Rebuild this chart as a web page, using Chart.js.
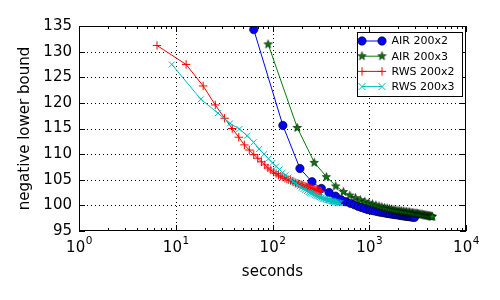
<!DOCTYPE html>
<html>
<head>
<meta charset="utf-8">
<script src="https://cdn.jsdelivr.net/npm/chart.js@4.4.0/dist/chart.umd.min.js"></script>
<style>
  html, body { margin: 0; padding: 0; background: #fff; }
  canvas { display: block; }
</style>
</head>
<body>
<canvas id="chart" width="500" height="300"></canvas>
<script>
// series names, in legend order
const seriesNames = ['AIR 200x2', 'AIR 200x3', 'RWS 200x2', 'RWS 200x3'];

// AIR 200x2 (blue circles)
const air2Seconds = [64, 128, 192, 256, 320, 384, 448, 512, 576, 640, 704, 768, 832, 896, 960, 1024,
  1088, 1152, 1216, 1280, 1344, 1408, 1472, 1536, 1600, 1664, 1728, 1792, 1856, 1920, 1984, 2048,
  2112, 2176, 2240, 2304, 2368, 2432, 2496, 2560, 2624, 2688, 2752, 2816, 2880, 2944];
const air2Bound = [134.3, 115.6, 107.2, 104.6, 103.3, 102.5, 101.8, 101.1, 100.7, 100.4, 100.1, 99.8,
  99.6, 99.4, 99.2, 99.1, 99.0, 98.9, 98.8, 98.7, 98.65, 98.6, 98.5, 98.45, 98.4, 98.35, 98.3, 98.25,
  98.2, 98.2, 98.15, 98.1, 98.05, 98.0, 98.0, 97.95, 97.9, 97.9, 97.85, 97.85, 97.8, 97.8, 97.75,
  97.75, 97.7, 97.7];

// AIR 200x3 (green stars)
const air3Seconds = [90, 180, 270, 360, 450, 540, 630, 720, 810, 900, 990, 1080, 1170, 1260, 1350,
  1440, 1530, 1620, 1710, 1800, 1890, 1980, 2070, 2160, 2250, 2340, 2430, 2520, 2610, 2700, 2790,
  2880, 2970, 3060, 3150, 3240, 3330, 3420, 3510, 3600, 3690, 3780, 3870, 3960, 4050, 4140, 4230,
  4320, 4410, 4500];
const air3Bound = [131.5, 115.2, 108.4, 105.6, 103.8, 102.7, 102.0, 101.5, 101.1, 100.8, 100.5, 100.3,
  100.1, 99.9, 99.75, 99.6, 99.5, 99.4, 99.3, 99.2, 99.1, 99.05, 99.0, 98.95, 98.9, 98.85, 98.8,
  98.75, 98.7, 98.65, 98.6, 98.55, 98.5, 98.5, 98.45, 98.4, 98.35, 98.3, 98.3, 98.25, 98.2, 98.15,
  98.1, 98.1, 98.05, 98.0, 98.0, 97.95, 97.9, 97.9];

// RWS 200x2 (red plus)
const rws2Seconds = [6.4, 12.8, 19.2, 25.6, 32, 38.4, 44.8, 51.2, 57.6, 64, 70.4, 76.8, 83.2, 89.6,
  96, 102.4, 108.8, 115.2, 121.6, 128, 134.4, 140.8, 147.2, 153.6, 160, 166.4, 172.8, 179.2, 185.6,
  192, 198.4, 204.8, 211.2, 217.6, 224, 230.4, 236.8, 243.2, 249.6, 256, 262.4, 268.8, 275.2, 281.6,
  288, 294.4, 300.8, 307.2, 313.6, 320];
const rws2Bound = [131.2, 127.5, 123.3, 119.6, 117.0, 115.0, 113.3, 111.8, 110.8, 109.9, 109.2, 108.5,
  107.9, 107.3, 106.9, 106.5, 106.2, 105.9, 105.7, 105.5, 105.3, 105.15, 105.0, 104.85, 104.7,
  104.55, 104.4, 104.3, 104.2, 104.1, 104.0, 103.9, 103.8, 103.7, 103.6, 103.5, 103.45, 103.4, 103.3,
  103.25, 103.2, 103.1, 103.05, 103.0, 102.95, 102.9, 102.85, 102.8, 102.75, 102.7];

// RWS 200x3 (cyan x)
const rws3Seconds = [9.1, 18.2, 27.3, 36.4, 45.5, 54.6, 63.7, 72.8, 81.9, 91, 100.1, 109.2, 118.3,
  127.4, 136.5, 145.6, 154.7, 163.8, 172.9, 182, 191.1, 200.2, 209.3, 218.4, 227.5, 236.6, 245.7,
  254.8, 263.9, 273, 282.1, 291.2, 300.3, 309.4, 318.5, 327.6, 336.7, 345.8, 354.9, 364, 373.1,
  382.2, 391.3, 400.4, 409.5, 418.6, 427.7, 436.8, 445.9, 455, 464.1, 473.2, 482.3, 491.4, 500.5];
const rws3Bound = [127.5, 120.7, 118.0, 116.0, 114.9, 113.6, 112.3, 111.0, 110.0, 109.1, 108.3, 107.6,
  107.0, 106.4, 105.9, 105.4, 105.0, 104.6, 104.3, 104.0, 103.7, 103.45, 103.2, 103.0, 102.8, 102.6,
  102.45, 102.3, 102.15, 102.0, 101.9, 101.8, 101.7, 101.6, 101.5, 101.4, 101.3, 101.25, 101.2,
  101.1, 101.05, 101.0, 100.95, 100.9, 100.85, 100.8, 100.75, 100.7, 100.65, 100.6, 100.55, 100.5,
  100.5, 100.45, 100.4];

// axis ticks
const xTickValues = [1, 10, 100, 1000, 10000];
const xTickExponents = ['0', '1', '2', '3', '4'];
const yTickValues = [95, 100, 105, 110, 115, 120, 125, 130, 135];

const BLUE = '#0000ff', GREEN = '#008000', RED = '#ff0000', CYAN = '#00bfbf';
const FONT = '"DejaVu Sans", sans-serif';

function toPoints(xs, ys) {
  return xs.map((x, i) => ({ x: x, y: ys[i] }));
}

function starPath(ctx, cx, cy, R, r) {
  ctx.beginPath();
  for (let i = 0; i < 10; i++) {
    const rad = i % 2 === 0 ? R : r;
    const a = -Math.PI / 2 + i * Math.PI / 5;
    const px = cx + rad * Math.cos(a), py = cy + rad * Math.sin(a);
    if (i === 0) ctx.moveTo(px, py); else ctx.lineTo(px, py);
  }
  ctx.closePath();
}

// filled star marker like matplotlib '*'
const starImg = document.createElement('canvas');
starImg.width = 11;
starImg.height = 11;
(function () {
  const c = starImg.getContext('2d');
  starPath(c, 5.5, 5.9, 4.4, 1.8);
  c.fillStyle = GREEN;
  c.fill();
  c.lineWidth = 0.6;
  c.strokeStyle = '#000';
  c.stroke();
})();

// grid, frame, inward ticks, custom tick labels and legend
const framePlugin = {
  id: 'frame',
  beforeDatasetsDraw(chart) {
    const { ctx, chartArea: a, scales } = chart;
    ctx.save();
    ctx.strokeStyle = '#000';
    ctx.lineWidth = 1;
    ctx.setLineDash([1, 3]);
    xTickValues.forEach(v => {
      const px = Math.round(scales.x.getPixelForValue(v)) + 0.5;
      if (px <= a.left + 1 || px >= a.right - 1) return;
      ctx.beginPath();
      ctx.moveTo(px, a.top);
      ctx.lineTo(px, a.bottom);
      ctx.stroke();
    });
    yTickValues.forEach(v => {
      const py = Math.round(scales.y.getPixelForValue(v)) + 0.5;
      if (py <= a.top + 1 || py >= a.bottom - 1) return;
      ctx.beginPath();
      ctx.moveTo(a.left, py);
      ctx.lineTo(a.right, py);
      ctx.stroke();
    });
    ctx.restore();
  },
  afterDatasetsDraw(chart) {
    const { ctx, chartArea: a, scales } = chart;
    ctx.save();
    ctx.strokeStyle = '#000';
    ctx.lineWidth = 1;
    ctx.beginPath();
    // x ticks, major and minor, top and bottom
    for (let d = 0; d < xTickValues.length; d++) {
      const base = xTickValues[d];
      for (let m = 1; m <= 9; m++) {
        if (d === xTickValues.length - 1 && m > 1) break;
        const px = Math.round(scales.x.getPixelForValue(base * m)) + 0.5;
        const len = m === 1 ? 6 : 3;
        ctx.moveTo(px, a.bottom);
        ctx.lineTo(px, a.bottom - len);
        ctx.moveTo(px, a.top);
        ctx.lineTo(px, a.top + len);
      }
    }
    yTickValues.forEach(v => {
      const py = Math.round(scales.y.getPixelForValue(v)) + 0.5;
      ctx.moveTo(a.left, py);
      ctx.lineTo(a.left + 6, py);
      ctx.moveTo(a.right, py);
      ctx.lineTo(a.right - 6, py);
    });
    ctx.stroke();
    ctx.strokeRect(Math.round(a.left) + 0.5, Math.round(a.top) + 0.5,
      Math.round(a.right - a.left) - 1, Math.round(a.bottom - a.top) - 1);
    ctx.restore();
  },
  afterDraw(chart) {
    const { ctx, chartArea: a, scales } = chart;
    ctx.save();
    // x tick labels 10^n
    ctx.fillStyle = '#000';
    ctx.textBaseline = 'alphabetic';
    ctx.textAlign = 'left';
    xTickValues.forEach((v, i) => {
      const px = scales.x.getPixelForValue(v);
      ctx.font = '15px ' + FONT;
      const bw = ctx.measureText('10').width;
      ctx.font = '10.5px ' + FONT;
      const sw = ctx.measureText(xTickExponents[i]).width;
      const x0 = px - (bw + sw) / 2;
      ctx.font = '15px ' + FONT;
      ctx.fillText('10', x0, a.bottom + 21);
      ctx.font = '10.5px ' + FONT;
      ctx.fillText(xTickExponents[i], x0 + bw + 0.5, a.bottom + 13);
    });

    // legend box
    const lx = 357.5, ly = 32.5, lw = 105, lh = 64;
    ctx.fillStyle = '#fff';
    ctx.fillRect(lx, ly, lw, lh);
    ctx.strokeStyle = '#000';
    ctx.lineWidth = 1;
    ctx.strokeRect(lx, ly, lw, lh);
    const colors = [BLUE, GREEN, RED, CYAN];
    const markers = ['circle', 'star', 'plus', 'x'];
    seriesNames.forEach((name, i) => {
      const y = 41 + i * 15.2;
      const x1 = 362, x2 = 382;
      ctx.strokeStyle = colors[i];
      ctx.lineWidth = 1;
      ctx.beginPath();
      ctx.moveTo(x1, y);
      ctx.lineTo(x2, y);
      ctx.stroke();
      [x1, x2].forEach(mx => {
        if (markers[i] === 'circle') {
          ctx.beginPath();
          ctx.arc(mx, y, 4.2, 0, Math.PI * 2);
          ctx.fillStyle = BLUE;
          ctx.fill();
          ctx.lineWidth = 0.6;
          ctx.strokeStyle = '#000';
          ctx.stroke();
        } else if (markers[i] === 'star') {
          ctx.drawImage(starImg, mx - 5.5, y - 5.9);
        } else if (markers[i] === 'plus') {
          ctx.beginPath();
          ctx.strokeStyle = RED;
          ctx.lineWidth = 1;
          ctx.moveTo(mx - 4.2, y); ctx.lineTo(mx + 4.2, y);
          ctx.moveTo(mx, y - 4.2); ctx.lineTo(mx, y + 4.2);
          ctx.stroke();
        } else {
          ctx.beginPath();
          ctx.strokeStyle = CYAN;
          ctx.lineWidth = 1;
          ctx.moveTo(mx - 3.5, y - 3.5); ctx.lineTo(mx + 3.5, y + 3.5);
          ctx.moveTo(mx - 3.5, y + 3.5); ctx.lineTo(mx + 3.5, y - 3.5);
          ctx.stroke();
        }
      });
      ctx.fillStyle = '#000';
      ctx.font = '11px ' + FONT;
      ctx.textBaseline = 'middle';
      ctx.fillText(name, 391.5, y + 0.5);
    });
    ctx.restore();
  }
};

new Chart(document.getElementById('chart'), {
  type: 'line',
  data: {
    datasets: [
      {
        label: seriesNames[0],
        data: toPoints(air2Seconds, air2Bound),
        borderColor: BLUE,
        backgroundColor: BLUE,
        borderWidth: 1,
        pointStyle: 'circle',
        pointRadius: 4.2,
        pointBorderColor: '#000',
        pointBorderWidth: 0.6,
        pointBackgroundColor: BLUE,
        order: 4
      },
      {
        label: seriesNames[1],
        data: toPoints(air3Seconds, air3Bound),
        borderColor: GREEN,
        backgroundColor: GREEN,
        borderWidth: 1,
        pointStyle: starImg,
        pointRadius: 4.4,
        order: 3
      },
      {
        label: seriesNames[2],
        data: toPoints(rws2Seconds, rws2Bound),
        borderColor: RED,
        backgroundColor: RED,
        borderWidth: 1,
        pointStyle: 'cross',
        pointRadius: 4.2,
        pointBorderColor: RED,
        pointBorderWidth: 1,
        order: 2
      },
      {
        label: seriesNames[3],
        data: toPoints(rws3Seconds, rws3Bound),
        borderColor: CYAN,
        backgroundColor: CYAN,
        borderWidth: 1,
        pointStyle: 'crossRot',
        pointRadius: 4.2,
        pointBorderColor: CYAN,
        pointBorderWidth: 1,
        order: 1
      }
    ]
  },
  options: {
    responsive: false,
    devicePixelRatio: 1,
    animation: false,
    layout: { padding: { left: 0, top: 26, right: 34, bottom: 0 } },
    plugins: {
      legend: { display: false },
      tooltip: { enabled: false }
    },
    elements: { line: { tension: 0, fill: false } },
    scales: {
      x: {
        type: 'logarithmic',
        min: 1,
        max: 10000,
        grid: { display: false, drawTicks: false },
        border: { display: false },
        ticks: { display: false },
        title: {
          display: true,
          text: 'seconds',
          color: '#000',
          font: { family: FONT, size: 15 },
          padding: { top: 0, bottom: 19 }
        },
        afterFit: scale => { scale.height = 69; }
      },
      y: {
        min: 95,
        max: 135,
        grid: { display: false, drawTicks: false },
        border: { display: false },
        afterBuildTicks: scale => { scale.ticks = yTickValues.map(v => ({ value: v })); },
        ticks: {
          color: '#000',
          padding: 7,
          font: { family: FONT, size: 15 }
        },
        title: {
          display: true,
          text: 'negative lower bound',
          color: '#000',
          font: { family: FONT, size: 15 },
          padding: { top: 16, bottom: 0 }
        },
        afterFit: scale => { scale.width = 79; }
      }
    }
  },
  plugins: [framePlugin]
});
</script>
</body>
</html>
